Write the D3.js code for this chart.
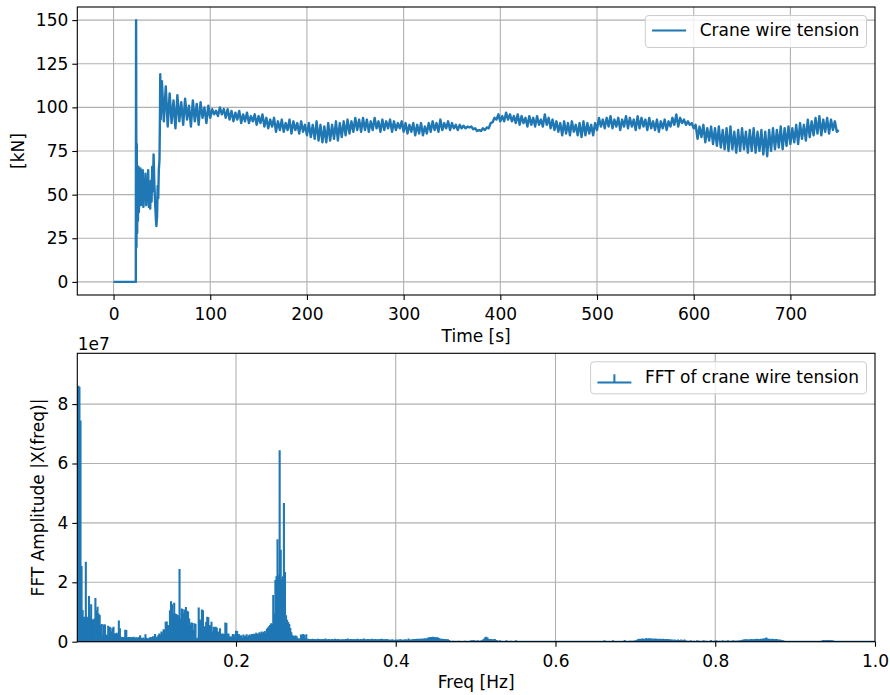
<!DOCTYPE html>
<html>
<head>
<meta charset="utf-8">
<script src="https://cdn.jsdelivr.net/npm/d3@7"></script>
<style>
  body { margin: 0; background: #fff; }
  svg text { font-family: "DejaVu Sans", sans-serif; fill: #000; }
</style>
</head>
<body>
<svg id="fig" width="890" height="695"></svg>
<script>
// ---- Crane wire tension, start-up transient (irregular samples) ----
const startupTimeS = [0, 23.0, 23.3, 23.7, 24.0, 24.4, 24.8, 25.2, 25.7, 26.2,
  26.7, 27.2, 27.8, 28.4, 29.0, 29.6, 30.2, 30.9, 31.6, 32.3,
  33.0, 33.7, 34.4, 35.1, 35.8, 36.5, 37.2, 37.9, 38.6, 39.3,
  40.0, 40.7, 41.4, 42.2, 43.0, 43.8, 44.3, 45.0, 45.6, 46.2,
  46.8, 47.5, 48.0, 48.3, 48.8];
const startupKN = [0, 0, 150, 20, 79, 28, 60, 35, 66, 40,
  58, 45, 65, 44, 60, 48, 64, 43, 57, 47,
  62, 44, 55, 46, 64, 43, 53, 42, 58, 46,
  66, 52, 73, 56, 45, 36, 32, 38, 55, 48,
  64, 70, 96, 119, 93];

// ---- Crane wire tension, regular samples every 2 s from 50 s ----
const sampleStartS = 50;
const sampleStepS = 2;
const tensionKN = [
  115, 92, 112, 89, 108, 91, 104, 88, 107, 92,
  103, 90, 105, 93, 101, 89, 104, 92, 102, 90,
  103, 94, 100, 91, 101, 94, 99, 96, 98, 95,
  100, 96, 99, 94, 99, 93, 98, 92, 97, 93,
  98, 91, 96, 92, 97, 91, 95, 92, 96, 90,
  95, 91, 96, 89, 94, 88, 93, 89, 94, 86,
  92, 87, 93, 86, 91, 87, 93, 85, 92, 87,
  91, 85, 92, 86, 90, 84, 91, 83, 90, 82,
  92, 81, 90, 80, 89, 80, 91, 81, 90, 82,
  92, 81, 91, 83, 92, 84, 93, 85, 92, 86,
  94, 87, 93, 86, 94, 87, 93, 86, 92, 87,
  94, 88, 92, 86, 93, 87, 92, 88, 93, 86,
  92, 87, 91, 88, 92, 86, 91, 85, 90, 86,
  91, 84, 90, 85, 91, 84, 89, 85, 91, 86,
  92, 87, 91, 86, 93, 87, 91, 88, 92, 87,
  91, 88, 90, 87, 90, 88, 89.5, 88, 89, 88.5,
  89, 87.5, 88, 86.5, 87, 86.5, 88, 87, 88.5, 88,
  91, 91.5, 94, 93, 96, 92, 95, 92, 97, 93,
  96, 92, 95, 91, 96, 90, 95, 91, 94, 89,
  95, 90, 94, 89, 95, 90, 93, 89, 96, 90,
  94, 88, 93, 87, 92, 86, 91, 84, 92, 85,
  91, 84, 92, 86, 90, 84, 91, 83, 92, 84,
  91, 85, 90, 84, 91, 87, 94, 89, 93, 88,
  94, 89, 95, 88, 93, 89, 94, 87, 93, 89,
  95, 88, 94, 89, 93, 87, 95, 88, 94, 89,
  93, 87, 94, 88, 92, 87, 93, 86, 92, 88,
  93, 87, 92, 89, 94, 90, 96, 89, 94, 91,
  93, 90, 92, 90, 91, 88, 90, 82, 89, 83,
  90, 80, 88, 81, 89, 79, 88, 78, 89, 77,
  87, 76, 88, 75, 89, 76, 86, 74, 87, 75,
  88, 76, 86, 74, 87, 75, 88, 74, 86, 75,
  87, 73, 86, 72, 87, 75, 88, 76, 87, 77,
  89, 76, 88, 78, 89, 79, 88, 80, 90, 79,
  91, 82, 90, 81, 93, 83, 92, 84, 94, 85,
  95, 84, 93, 86, 94, 85, 93, 87, 92, 86,
  87
];

const timeTicks = [0, 100, 200, 300, 400, 500, 600, 700];
const tensionTicks = [0, 25, 50, 75, 100, 125, 150];

// ---- FFT amplitude, one bin per 1/750 Hz, in millions ----
const fftBinHz = 1 / 750;
// bins 1..250
const fftAmpLowM = [
  86.0, 86.2, 85.8, 74.5, 25.5, 10.7, 8.4, 8.2, 26.9, 8.4,
  7.8, 15.4, 8.4, 12.6, 7.6, 7.3, 7.8, 14.7, 10.6, 11.8,
  9.5, 9.0, 5.6, 6.0, 2.2, 5.8, 5.8, 2.4, 2.2, 5.4,
  5.0, 4.9, 3.4, 4.5, 5.0, 2.8, 2.8, 3.0, 2.6, 7.1,
  4.5, 1.7, 1.2, 1.6, 1.5, 4.0, 3.9, 1.4, 1.6, 1.6,
  1.5, 1.6, 1.3, 1.7, 1.1, 1.5, 1.4, 1.2, 1.6, 2.2,
  1.3, 1.1, 1.4, 1.0, 2.5, 1.3, 1.2, 1.0, 1.4, 1.6,
  1.3, 1.8, 1.5, 2.6, 1.7, 1.4, 2.2, 2.8, 2.4, 3.4,
  3.0, 4.2, 4.0, 6.7, 6.8, 5.6, 5.4, 10.6, 13.6, 12.6,
  9.5, 13.1, 9.5, 9.3, 9.0, 8.8, 24.5, 7.8, 11.2, 10.9,
  9.5, 10.8, 11.7, 10.4, 10.2, 7.8, 5.6, 6.5, 6.4, 3.9,
  6.2, 6.0, 1.1, 1.3, 11.5, 7.5, 7.2, 10.8, 10.6, 5.0,
  5.2, 6.7, 8.4, 8.2, 5.6, 5.4, 6.7, 3.4, 5.0, 4.8,
  5.0, 4.7, 3.4, 3.2, 4.5, 2.6, 2.8, 2.7, 2.6, 6.5,
  6.3, 2.8, 2.7, 1.7, 1.8, 1.6, 2.6, 2.5, 1.7, 3.7,
  3.6, 2.6, 2.5, 1.9, 2.2, 1.4, 2.4, 1.8, 2.0, 2.5,
  1.6, 2.2, 2.4, 1.9, 2.6, 2.3, 2.7, 2.5, 3.0, 2.6,
  2.8, 3.2, 2.7, 3.4, 2.9, 3.3, 3.6, 2.8, 4.4, 4.8,
  5.2, 5.6, 6.2, 6.0, 15.7, 9.5, 20.8, 22.0, 34.5, 22.5,
  64.5, 31.0, 21.0, 22.0, 46.7, 23.5, 8.9, 7.4, 6.6, 6.0,
  4.6, 3.2, 2.2, 2.0, 1.9, 2.1, 1.8, 1.2, 1.0, 1.1,
  2.4, 1.3, 2.6, 2.3, 1.1, 2.5, 0.9, 1.0, 0.8, 0.9,
  0.8, 1.0, 0.7, 0.9, 0.8, 0.7, 1.0, 0.8, 0.9, 0.7,
  0.8, 0.9, 0.7, 1.1, 0.8, 0.7, 0.9, 0.8, 0.6, 0.9,
  0.8, 0.7, 1.0, 0.8, 0.7, 0.9, 0.8, 0.6, 0.8, 0.7
];
// bins 251..750
const fftAmpHighM = [
  0.8, 0.7, 0.9, 0.8, 1.1, 0.7, 0.8, 0.9, 0.7, 0.8,
  0.9, 0.7, 0.8, 1.0, 0.8, 0.7, 0.9, 0.8, 0.7, 1.1,
  0.8, 0.7, 0.8, 0.9, 0.7, 0.8, 0.8, 1.0, 0.7, 0.8,
  0.9, 0.7, 0.8, 0.7, 0.9, 0.8, 1.0, 0.7, 0.8, 0.7,
  0.8, 0.9, 0.7, 0.6, 0.7, 0.6, 0.8, 0.6, 0.5, 0.7,
  0.6, 0.7, 0.6, 0.8, 0.7, 0.6, 0.7, 0.6, 0.8, 0.7,
  0.6, 1.1, 0.7, 0.6, 0.8, 0.7, 0.9, 0.8, 0.9, 1.0,
  0.9, 1.0, 0.8, 1.1, 0.9, 1.0, 1.2, 1.0, 1.1, 1.3,
  1.4, 1.5, 1.6, 1.5, 1.7, 1.6, 1.5, 1.4, 1.5, 1.3,
  1.2, 1.0, 0.9, 1.0, 0.8, 0.9, 0.8, 0.7, 0.8, 0.6,
  0.3, 0.2, 0.2, 0.3, 0.2, 0.1, 0.2, 0.2, 0.3, 0.2,
  0.2, 0.1, 0.2, 0.2, 0.3, 0.2, 0.2, 0.1, 0.2, 0.3,
  0.5, 0.3, 0.6, 0.4, 0.3, 0.2, 0.5, 0.3, 0.2, 0.4,
  0.5, 0.7, 1.0, 1.5, 1.7, 1.4, 1.0, 0.8, 0.9, 0.7,
  0.8, 0.7, 0.9, 0.6, 0.5, 0.3, 0.2, 0.5, 0.2, 0.1,
  0.2, 0.1, 0.2, 0.5, 0.2, 0.1, 0.2, 0.3, 0.1, 0.2,
  0.1, 0.2, 0.5, 0.2, 0.1, 0.2, 0.1, 0.1, 0.2, 0.1,
  0.1, 0.2, 0.1, 0.1, 0.1, 0.2, 0.1, 0.1, 0.1, 0.2,
  0.1, 0.1, 0.2, 0.1, 0.1, 0.1, 0.1, 0.2, 0.1, 0.1,
  0.1, 0.2, 0.1, 0.1, 0.1, 0.1, 0.2, 0.1, 0.1, 0.1,
  0.1, 0.1, 0.2, 0.1, 0.1, 0.1, 0.2, 0.1, 0.1, 0.1,
  0.1, 0.2, 0.1, 0.1, 0.1, 0.1, 0.1, 0.2, 0.1, 0.1,
  0.1, 0.1, 0.2, 0.1, 0.1, 0.1, 0.1, 0.1, 0.2, 0.1,
  0.1, 0.1, 0.1, 0.1, 0.2, 0.1, 0.1, 0.1, 0.1, 0.1,
  0.2, 0.1, 0.1, 0.1, 0.1, 0.5, 0.2, 0.1, 0.2, 0.1,
  0.2, 0.1, 0.2, 0.5, 0.2, 0.1, 0.2, 0.2, 0.1, 0.2,
  0.2, 0.1, 0.2, 0.2, 0.6, 0.2, 0.1, 0.2, 0.2, 0.3,
  0.2, 0.3, 0.2, 0.3, 0.5, 0.4, 0.7, 0.9, 1.0, 0.9,
  1.0, 1.1, 0.9, 1.0, 1.2, 1.1, 1.0, 1.2, 1.1, 1.0,
  1.1, 0.9, 1.0, 1.1, 0.9, 1.0, 0.8, 1.0, 0.9, 0.9,
  1.0, 0.8, 0.9, 0.8, 0.9, 0.8, 0.7, 0.8, 0.6, 0.7,
  0.3, 0.7, 0.6, 0.2, 0.7, 0.6, 0.3, 0.7, 0.2, 0.6,
  0.7, 0.5, 0.2, 0.3, 0.2, 0.2, 0.5, 0.2, 0.2, 0.3,
  0.2, 0.2, 0.5, 0.2, 0.3, 0.2, 0.2, 0.2, 0.5, 0.2,
  0.3, 0.2, 0.2, 0.2, 0.2, 0.6, 0.2, 0.2, 0.3, 0.2,
  0.5, 0.2, 0.2, 0.3, 0.2, 0.2, 0.5, 0.2, 0.2, 0.3,
  0.2, 0.5, 0.2, 0.2, 0.3, 0.2, 0.5, 0.2, 0.3, 0.2,
  0.4, 0.2, 0.5, 0.3, 0.6, 0.7, 0.6, 0.8, 0.7, 0.8,
  0.6, 0.8, 0.7, 0.9, 0.8, 0.7, 0.9, 0.8, 1.0, 0.8,
  0.9, 0.8, 1.0, 0.9, 1.1, 1.0, 1.2, 1.4, 1.1, 0.9,
  1.0, 0.8, 0.9, 1.0, 0.8, 0.7, 0.9, 0.8, 0.7, 0.6,
  0.7, 0.5, 0.6, 0.4, 0.2, 0.1, 0.2, 0.1, 0.1, 0.2,
  0.1, 0.1, 0.2, 0.1, 0.1, 0.1, 0.2, 0.1, 0.1, 0.1,
  0.1, 0.2, 0.1, 0.1, 0.1, 0.1, 0.1, 0.2, 0.1, 0.1,
  0.1, 0.1, 0.2, 0.1, 0.1, 0.1, 0.1, 0.1, 0.2, 0.3,
  0.5, 0.6, 0.5, 0.4, 0.6, 0.5, 0.5, 0.6, 0.4, 0.5,
  0.3, 0.2, 0.1, 0.1, 0.2, 0.1, 0.1, 0.1, 0.1, 0.2,
  0.1, 0.1, 0.1, 0.1, 0.1, 0.2, 0.1, 0.1, 0.1, 0.1,
  0.1, 0.2, 0.1, 0.1, 0.1, 0.1, 0.1, 0.1, 0.2, 0.1,
  0.1, 0.1, 0.1, 0.2, 0.1, 0.1, 0.1, 0.1, 0.1, 0.1
];

const freqTicks = [0.2, 0.4, 0.6, 0.8, 1.0];
const ampTicks = [0, 2, 4, 6, 8];   // in units of 1e7
const ampUnit = 1e7;

// ---- assemble records ----
const tension = startupTimeS.map((t, i) => ({ t, v: startupKN[i] }))
  .concat(tensionKN.map((v, i) => ({ t: sampleStartS + i * sampleStepS, v })));
const spectrum = fftAmpLowM.concat(fftAmpHighM)
  .map((a, i) => ({ f: (i + 1) * fftBinHz, a: a * 1e6 }));

// ---- layout ----
const BLUE = "#1f77b4";
const FONT = 17;
const left = 77.3, right = 875;
const top1 = 7, bot1 = 295;
const top2 = 353.3, bot2 = 641.7;

const svg = d3.select("#fig");

const xT = d3.scaleLinear().domain([-37.5, 787.5]).range([left, right]);
const yT = d3.scaleLinear().domain([-7.5, 157.5]).range([bot1, top1]);
const xF = d3.scaleLinear().domain([fftBinHz, 1]).range([left, right]);
const yF = d3.scaleLinear().domain([0, 9.71e7]).range([bot2, top2]);

function grid(g, xs, ys, xv, yv, y0, y1) {
  g.selectAll(null).data(xv).join("line")
    .attr("x1", d => xs(d)).attr("x2", d => xs(d))
    .attr("y1", y0).attr("y2", y1)
    .attr("stroke", "#b0b0b0").attr("stroke-width", 1.1);
  g.selectAll(null).data(yv).join("line")
    .attr("x1", left).attr("x2", right)
    .attr("y1", d => ys(d)).attr("y2", d => ys(d))
    .attr("stroke", "#b0b0b0").attr("stroke-width", 1.1);
}

function styleAxis(g) {
  g.select(".domain").remove();
  g.attr("font-family", "DejaVu Sans").attr("font-size", FONT);
  g.selectAll(".tick line").attr("stroke", "#000").attr("stroke-width", 1.1);
  g.selectAll(".tick text").attr("fill", "#000");
}

// ================= top panel: tension vs time =================
const p1 = svg.append("g");
svg.append("clipPath").attr("id", "clip1").append("rect")
  .attr("x", left).attr("y", top1).attr("width", right - left).attr("height", bot1 - top1);

grid(p1.append("g"), xT, yT, timeTicks, tensionTicks, top1, bot1);

p1.append("path")
  .datum(tension)
  .attr("clip-path", "url(#clip1)")
  .attr("fill", "none")
  .attr("stroke", BLUE)
  .attr("stroke-width", 2.4)
  .attr("stroke-linejoin", "round")
  .attr("d", d3.line().x(d => xT(d.t)).y(d => yT(d.v)));

p1.append("rect")
  .attr("x", left).attr("y", top1).attr("width", right - left).attr("height", bot1 - top1)
  .attr("fill", "none").attr("stroke", "#000").attr("stroke-width", 1.1);

p1.append("g").attr("transform", `translate(0,${bot1})`)
  .call(d3.axisBottom(xT).tickValues(timeTicks).tickSize(5).tickPadding(8).tickFormat(d3.format("d")))
  .call(styleAxis);
p1.append("g").attr("transform", `translate(${left},0)`)
  .call(d3.axisLeft(yT).tickValues(tensionTicks).tickSize(5).tickPadding(4).tickFormat(d3.format("d")))
  .call(styleAxis);

p1.append("text").attr("x", (left + right) / 2).attr("y", 342)
  .attr("text-anchor", "middle").attr("font-size", FONT).text("Time [s]");
p1.append("text").attr("transform", `translate(24,${(top1 + bot1) / 2}) rotate(-90)`)
  .attr("text-anchor", "middle").attr("font-size", FONT).text("[kN]");

// legend
const lg1 = p1.append("g");
lg1.append("rect").attr("x", 645.3).attr("y", 15.5).attr("width", 221.2).attr("height", 32)
  .attr("rx", 3.4).attr("fill", "#fff").attr("fill-opacity", 0.8)
  .attr("stroke", "#cccccc").attr("stroke-width", 1);
lg1.append("line").attr("x1", 652.1).attr("x2", 686.1).attr("y1", 30.5).attr("y2", 30.5)
  .attr("stroke", BLUE).attr("stroke-width", 2);
lg1.append("text").attr("x", 699.7).attr("y", 36).attr("font-size", FONT).text("Crane wire tension");

// ================= bottom panel: FFT amplitude =================
const p2 = svg.append("g");
svg.append("clipPath").attr("id", "clip2").append("rect")
  .attr("x", left).attr("y", top2).attr("width", right - left).attr("height", bot2 - top2);

grid(p2.append("g"), xF, yF, freqTicks.filter(f => f < 1), ampTicks.map(v => v * ampUnit), top2, bot2);

const stems = p2.append("g").attr("clip-path", "url(#clip2)");
stems.selectAll("line").data(spectrum).join("line")
  .attr("x1", d => xF(d.f)).attr("x2", d => xF(d.f))
  .attr("y1", yF(0)).attr("y2", d => yF(d.a))
  .attr("stroke", BLUE).attr("stroke-width", 2.1);
stems.append("line")
  .attr("x1", xF(spectrum[0].f)).attr("x2", xF(spectrum[spectrum.length - 1].f))
  .attr("y1", yF(0)).attr("y2", yF(0))
  .attr("stroke", BLUE).attr("stroke-width", 2);

p2.append("rect")
  .attr("x", left).attr("y", top2).attr("width", right - left).attr("height", bot2 - top2)
  .attr("fill", "none").attr("stroke", "#000").attr("stroke-width", 1.1);

p2.append("g").attr("transform", `translate(0,${bot2})`)
  .call(d3.axisBottom(xF).tickValues(freqTicks).tickSize(5).tickPadding(8).tickFormat(d3.format(".1f")))
  .call(styleAxis);
p2.append("g").attr("transform", `translate(${left},0)`)
  .call(d3.axisLeft(yF).tickValues(ampTicks.map(v => v * ampUnit)).tickSize(5).tickPadding(4)
    .tickFormat(d => d3.format("d")(d / ampUnit)))
  .call(styleAxis);

p2.append("text").attr("x", left + 0.5).attr("y", 349.5).attr("font-size", FONT).text("1e7");
p2.append("text").attr("x", (left + right) / 2).attr("y", 688)
  .attr("text-anchor", "middle").attr("font-size", FONT).text("Freq [Hz]");
p2.append("text").attr("transform", `translate(44,${(top2 + bot2) / 2}) rotate(-90)`)
  .attr("text-anchor", "middle").attr("font-size", FONT).text("FFT Amplitude |X(freq)|");

// legend with a stem glyph
const lg2 = p2.append("g");
lg2.append("rect").attr("x", 590.6).attr("y", 361.8).attr("width", 275.9).attr("height", 32)
  .attr("rx", 3.4).attr("fill", "#fff").attr("fill-opacity", 0.8)
  .attr("stroke", "#cccccc").attr("stroke-width", 1);
lg2.append("line").attr("x1", 597.4).attr("x2", 631.4).attr("y1", 382.5).attr("y2", 382.5)
  .attr("stroke", BLUE).attr("stroke-width", 2);
lg2.append("line").attr("x1", 614.4).attr("x2", 614.4).attr("y1", 382.5).attr("y2", 374.3)
  .attr("stroke", BLUE).attr("stroke-width", 2);
lg2.append("text").attr("x", 645).attr("y", 382.5).attr("font-size", FONT).text("FFT of crane wire tension");
</script>
</body>
</html>
